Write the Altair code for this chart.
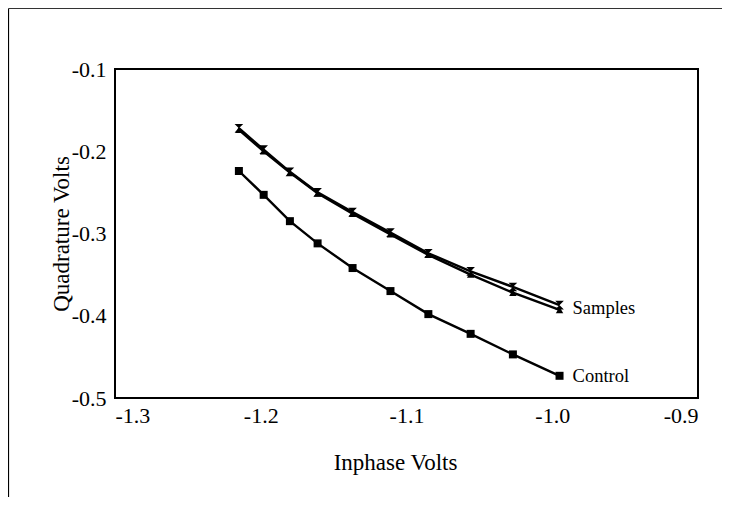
import altair as alt
import pandas as pd

# Values
x_vals = [-1.215, -1.198, -1.180, -1.161, -1.137, -1.111, -1.085, -1.056, -1.027, -0.995]
control = [-0.224, -0.253, -0.285, -0.312, -0.342, -0.370, -0.398, -0.422, -0.447, -0.473]
samples_a = [-0.172, -0.198, -0.225, -0.250, -0.274, -0.299, -0.324, -0.346, -0.365, -0.387]
samples_b = [-0.174, -0.200, -0.226, -0.251, -0.276, -0.301, -0.326, -0.350, -0.372, -0.393]
x_ticks = [-1.3, -1.2, -1.1, -1.0, -0.9]
y_ticks = [-0.1, -0.2, -0.3, -0.4, -0.5]
end_labels = ["Samples", "Control"]

rows = []
for name, ys in [("Control", control), ("Samples A", samples_a), ("Samples B", samples_b)]:
    for xv, yv in zip(x_vals, ys):
        rows.append({"x": xv, "y": yv, "series": name})
df = pd.DataFrame(rows)

lab_df = pd.DataFrame({
    "x": [x_vals[-1], x_vals[-1]],
    "y": [(samples_a[-1] + samples_b[-1]) / 2, control[-1]],
    "label": end_labels,
})

FONT = "Liberation Serif"
label_expr = "(datum.value < 0 ? '-' : '') + format(abs(datum.value), '.1f')"

xenc = alt.X(
    "x:Q",
    scale=alt.Scale(domain=[-1.3, -0.9], nice=False, zero=False),
    axis=alt.Axis(values=x_ticks, labelExpr=label_expr, title="Inphase Volts",
                  labelPadding=17, labelBaseline="middle",
                  titleX=280, titleY=64, titleBaseline="middle", titleAlign="center"),
)
yenc = alt.Y(
    "y:Q",
    scale=alt.Scale(domain=[-0.5, -0.1], nice=False, zero=False),
    axis=alt.Axis(values=y_ticks, labelExpr=label_expr, title="Quadrature Volts",
                  labelPadding=9,
                  titleX=-54, titleY=164.5, titleAngle=-90, titleBaseline="middle",
                  titleAlign="center"),
)

base = alt.Chart(df)

lines = base.mark_line(color="black", strokeWidth=2.4).encode(
    x=xenc, y=yenc, detail="series:N"
)

ctrl_pts = base.transform_filter(alt.datum.series == "Control").mark_point(
    shape="square", filled=True, color="black", size=64, opacity=1
).encode(x="x:Q", y="y:Q")

samp_a_pts = base.transform_filter(alt.datum.series == "Samples A").mark_point(
    shape="M-1,-1L1,-1L-1,1L1,1Z", filled=True, color="black", size=75, opacity=1
).encode(x="x:Q", y="y:Q")

samp_b_pts = base.transform_filter(alt.datum.series == "Samples B").mark_point(
    shape="triangle-up", filled=True, color="black", size=55, opacity=1
).encode(x="x:Q", y="y:Q")

labels = alt.Chart(lab_df).mark_text(
    align="left", baseline="middle", dx=13, font=FONT, fontSize=18.5, color="black"
).encode(x="x:Q", y="y:Q", text="label:N")

one = pd.DataFrame({"a": [0]})
frame_left = alt.Chart(one).mark_rule(color="black", strokeWidth=1.2).encode(
    x=alt.value(-106.5), y=alt.value(-60.5), y2=alt.value(500)
)
frame_top = alt.Chart(one).mark_rule(color="#333333", strokeWidth=1).encode(
    x=alt.value(-106.5), x2=alt.value(620), y=alt.value(-60.5)
)

chart = alt.layer(
    frame_left, frame_top, lines, ctrl_pts, samp_a_pts, samp_b_pts, labels
).properties(
    width=583, height=329,
    autosize=alt.AutoSizeParams(type="none"),
    padding={"left": 107, "top": 61, "right": 24, "bottom": 99},
    background="white",
).configure_view(
    stroke="black", strokeWidth=2
).configure_axis(
    domain=False, ticks=False, grid=False,
    labelFont=FONT, labelFontSize=22, labelColor="black",
    titleFont=FONT, titleFontSize=23, titleFontWeight="normal", titleColor="black",
)

chart.save("out.html", embed_options={"renderer": "svg", "actions": False})
